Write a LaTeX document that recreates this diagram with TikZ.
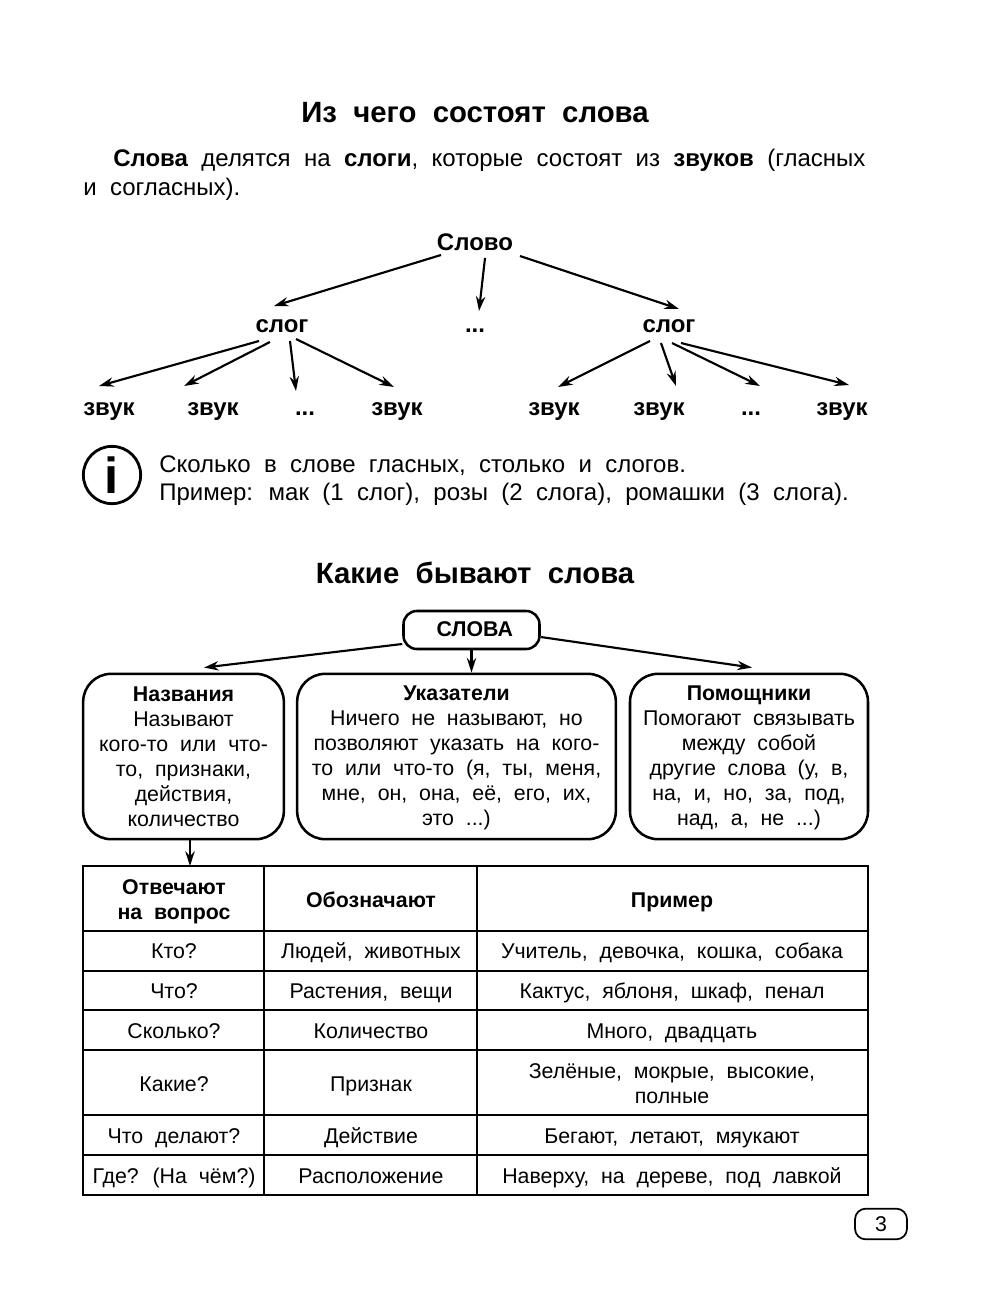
\documentclass[tikz,border=0pt]{standalone}
\usepackage{fontspec}
\setmainfont[WordSpace=2]{Liberation Sans}
\usetikzlibrary{arrows.meta}
\newcommand{\boxtop}{\rule{0pt}{13.1pt}}
\newcommand{\boxend}{\rule[-2.6pt]{0pt}{2.6pt}}
\tikzset{
  txt/.style={font=\fontsize{16}{18.75}\selectfont,inner sep=0pt},
  boldtxt/.style={font=\fontsize{16}{18.75}\selectfont\bfseries,inner sep=0pt},
  bigtxt/.style={font=\fontsize{18}{21}\selectfont,inner sep=0pt,anchor=base west},
  title/.style={font=\fontsize{22}{26}\selectfont\bfseries,inner sep=0pt},
  word/.style={font=\fontsize{18}{21}\selectfont\bfseries,inner sep=0pt,anchor=base},
  arr/.style={line width=1.6pt,-{Stealth[length=11pt,width=7pt]}},
  roundbox/.style={txt,draw,line width=1.9pt,rounded corners=21pt,align=center,minimum height=124pt},
  cell/.style={txt,align=center},
  headcell/.style={boldtxt,align=center},
  grid/.style={line width=2.1pt}
}
\begin{document}
\begin{tikzpicture}[x=0.75pt,y=-0.75pt]
  \useasboundingbox (0,0) rectangle (986,1299);

  \node[title] (title1) at (475,113) {Из чего состоят слова};
  \node[bigtxt] (para1) at (113,166) {\textbf{Слова} делятся на \textbf{слоги}, которые состоят из \textbf{звуков} (гласных};
  \node[bigtxt] (para2) at (83,195) {и согласных).};

  \node[word] (slovo) at (475,250) {Слово};
  \node[word] (slogL) at (282,332) {слог};
  \node[word] (dotsM) at (475,332) {...};
  \node[word] (slogR) at (669,332) {слог};
  \node[word] (zvukA) at (109,415) {звук};
  \node[word] (zvukB) at (213,415) {звук};
  \node[word] (dotsL) at (305,415) {...};
  \node[word] (zvukC) at (397,415) {звук};
  \node[word] (zvukD) at (554,415) {звук};
  \node[word] (zvukE) at (659,415) {звук};
  \node[word] (dotsR) at (751,415) {...};
  \node[word] (zvukF) at (842,415) {звук};

  \draw[arr] ([shift={(-34,5)}]slovo.base) -- ([shift={(-8,-26)}]slogL.base);
  \draw[arr] ([shift={(10,8)}]slovo.base) -- ([shift={(4,-21)}]dotsM.base);
  \draw[arr] ([shift={(45,6)}]slovo.base) -- ([shift={(10,-23)}]slogR.base);
  \draw[arr] ([shift={(-23,9)}]slogL.base) -- ([shift={(-10,-29)}]zvukA.base);
  \draw[arr] ([shift={(-12,10)}]slogL.base) -- ([shift={(-29,-29)}]zvukB.base);
  \draw[arr] ([shift={(8,9)}]slogL.base) -- ([shift={(-9,-24)}]dotsL.base);
  \draw[arr] ([shift={(14,7)}]slogL.base) -- ([shift={(-3,-28)}]zvukC.base);
  \draw[arr] ([shift={(-19,9)}]slogR.base) -- ([shift={(4,-28)}]zvukD.base);
  \draw[arr] ([shift={(-8,11)}]slogR.base) -- ([shift={(17,-29)}]zvukE.base);
  \draw[arr] ([shift={(3,11)}]slogR.base) -- ([shift={(9,-29)}]dotsR.base);
  \draw[arr] ([shift={(12,11)}]slogR.base) -- ([shift={(7,-30)}]zvukF.base);

  \node[draw,circle,line width=2.1pt,minimum size=43pt,inner sep=0pt,font=\fontsize{38}{38}\selectfont\bfseries] (info) at (112,475) {\raisebox{-3pt}{i}};
  \node[bigtxt] (info1) at (159,472) {Сколько в слове гласных, столько и слогов.};
  \node[bigtxt] (info2) at (159,500) {Пример: мак (1 слог), розы (2 слога), ромашки (3 слога).};

  \node[title] (title2) at (475,573) {Какие бывают слова};

  \node[boldtxt,draw,line width=1.9pt,rounded corners=10pt,minimum width=102pt,minimum height=28.5pt] (slova) at (471.5,630) {\hspace{5pt}\raisebox{1.5pt}{СЛОВА}};
  \node[roundbox,minimum width=150.5pt] (nazv) at (183.5,756.5) {\boxtop\textbf{Названия}\\Называют\\кого-то или что-\\то, признаки,\\действия,\\количество\boxend};
  \node[roundbox,minimum width=239pt] (ukaz) at (456.5,756.5) {\boxtop\textbf{Указатели}\\Ничего не называют, но\\позволяют указать на кого-\\то или что-то (я, ты, меня,\\мне, он, она, её, его, их,\\это ...)\boxend};
  \node[roundbox,minimum width=178.5pt] (pomo) at (749,756.5) {\boxtop\textbf{Помощники}\\Помогают связывать\\между собой\\другие слова (у, в,\\на, и, но, за, под,\\над, а, не ...)\boxend};

  \draw[arr] ([shift={(0,14)}]slova.west) -- ([shift={(20.5,-5)}]nazv.north);
  \draw[arr] (slova.south) -- (slova.south |- ukaz.north);
  \draw[arr] ([shift={(0,7)}]slova.east) -- ([shift={(3,-5)}]pomo.north);
  \coordinate (tabletop) at (190,866);
  \draw[arr] (nazv.south -| tabletop) -- (tabletop);

  \draw[grid] (83,866) rectangle (868,1195);
  \foreach \y in {931,971,1010,1050,1115,1155} \draw[grid] (83,\y) -- (868,\y);
  \foreach \x in {264,477} \draw[grid] (\x,866) -- (\x,1195);

  \node[headcell] (headA) at (174,902) {\strut Отвечают\\\strut на вопрос};
  \node[headcell] (headB) at (371,902) {\strut Обозначают};
  \node[headcell] (headC) at (672,902) {\strut Пример};
  \foreach \y/\a/\b/\c in {
    953.5/Кто?/{Людей, животных}/{Учитель, девочка, кошка, собака},
    993.5/Что?/{Растения, вещи}/{Кактус, яблоня, шкаф, пенал},
    1033/Сколько?/Количество/{Много, двадцать},
    1086/Какие?/Признак/{\strut Зелёные, мокрые, высокие,\\\strut полные},
    1138/Что делают?/Действие/{Бегают, летают, мяукают},
    1178/Где? (На чём?)/Расположение/{Наверху, на дереве, под лавкой}} {
    \node[cell] at (174,\y) {\strut\a};
    \node[cell] at (371,\y) {\strut\b};
    \node[cell] at (672,\y) {\strut\c};
  }

  \node[txt,draw,line width=1.3pt,rounded corners=8pt,minimum width=39pt,minimum height=23pt] (pagenum) at (881,1224) {3};
\end{tikzpicture}
\end{document}
